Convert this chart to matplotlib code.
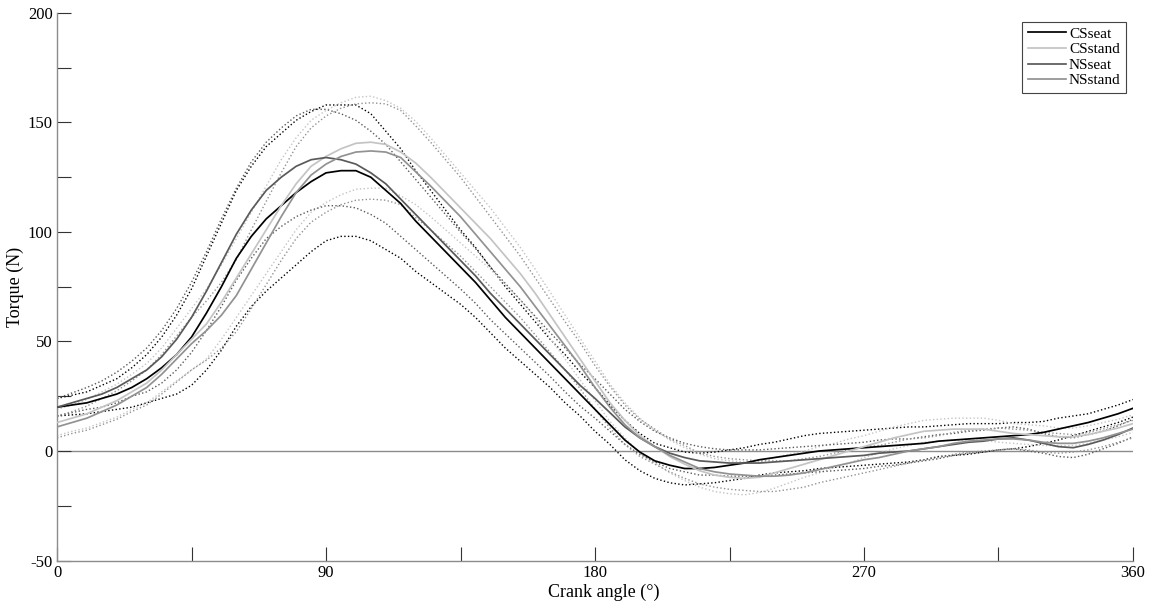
import matplotlib
matplotlib.use("Agg")
import matplotlib.pyplot as plt
import numpy as np

# crank angle samples (deg), every 5 deg
angle = np.arange(0, 361, 5)

labels = ["CSseat", "CSstand", "NSseat", "NSstand"]
colors = ["#000000", "#c4c4c4", "#5a5a5a", "#929292"]

cs_seat_mean = [20, 21, 22, 24, 26, 29, 33, 38, 44, 52, 63, 75, 88, 98, 106,
                112, 118, 123, 127, 128, 128, 125, 119, 113, 105, 98, 91, 84, 77, 69,
                61, 54, 47, 40, 33, 26, 19, 12, 5, -0.5, -4.5, -6.5, -8, -8, -7.5,
                -6.5, -5.5, -4, -3, -2, -1, 0, 0.5, 1, 1.5, 2, 2.5, 3, 3.5, 4.5,
                5, 5.5, 6, 6.5, 7, 7.5, 8.5, 10, 11.5, 13, 15, 17, 19.5]
cs_seat_sd = [4, 4.5, 5, 6, 7, 9, 11, 14, 18, 22, 26, 29, 31, 32, 33,
              33, 33, 32, 31, 30, 30, 29, 27, 25, 23, 21, 19, 17, 16, 15,
              14, 13, 12, 11, 11, 10, 10, 9, 9, 8.5, 8, 8, 7.5, 7, 7,
              7, 7, 7, 7, 7.5, 8, 8, 8, 8, 8, 8, 8, 8, 7.5, 7,
              7, 7, 6.5, 6, 6, 5.5, 5, 5, 4.5, 4, 4, 4, 4]

cs_stand_mean = [13, 15, 17, 20, 23, 27, 31, 37, 44, 51, 58, 68, 79, 90, 101,
                 112, 122, 130, 134.5, 138, 140.5, 141, 140, 136.5, 131.5, 125, 118, 111, 104, 97,
                 89, 81, 72, 62, 52, 42, 32, 22, 14, 7, 2, -2.5, -6, -9, -11,
                 -12, -12.5, -12, -10, -8, -6, -4, -2, 0, 2, 4, 6, 7.5, 9, 9.5,
                 10, 10, 10, 9, 8, 7.5, 7, 6.5, 6.5, 7.5, 9, 10.5, 12.5]
cs_stand_sd = [6, 6, 6.5, 7, 7.5, 8, 9, 10, 12, 14, 16, 17, 18, 19, 20,
               21, 21, 21, 21, 21, 21, 21, 20, 20, 19, 18, 17, 16, 15, 14,
               13, 12, 11, 10.5, 10, 9.5, 9, 8.5, 8, 8, 7.5, 7.5, 7.5, 7.5, 7.5,
               7.5, 7.5, 7, 7, 6.5, 6, 6, 5.5, 5.5, 5, 5, 5, 5, 5, 5,
               5, 5, 5, 5, 4.5, 4.5, 4.5, 4, 4, 4, 4, 4, 4]

ns_seat_mean = [20, 22, 24, 26, 29, 33, 37, 43, 51, 61, 73, 86, 99, 110, 119,
                125, 130, 133, 134, 133, 131, 127, 122, 115, 108, 101, 94, 87, 80, 72,
                65, 58, 51, 44, 37, 30, 24, 17.5, 11, 6, 2, -1, -3, -4.5, -5,
                -5.5, -5.5, -5.5, -5, -4.5, -4, -3.5, -3, -2.5, -2, -1, -0.5, 0, 1, 2,
                3, 4, 4.5, 5.5, 6, 5, 3.5, 2, 1.5, 3, 5, 7.5, 10.5]
ns_seat_sd = [4, 4.5, 5, 6, 7, 8, 10, 12, 14, 16, 18, 20, 21, 22, 22,
              22.5, 23, 23, 22, 21, 20, 19, 18, 17, 16, 15, 14, 13, 12.5, 12,
              11.5, 11, 10.5, 10, 10, 9.5, 9, 8.5, 8, 7.5, 7, 7, 6.5, 6.5, 6,
              6, 6, 6, 6, 6, 6, 6, 6, 6, 6, 6, 6, 5.5, 5.5, 5.5,
              5, 5, 5, 5, 5, 5, 4.5, 4.5, 4.5, 4.5, 4, 4, 4]

ns_stand_mean = [11, 13, 15, 18, 21, 25, 29, 35, 42, 49, 55, 62, 71, 83, 95,
                 107, 118, 126, 131, 134.5, 136.5, 137, 136.5, 134, 127.5, 121, 114, 107, 99, 91,
                 83, 75, 66, 57, 48, 39, 29, 20, 12, 6, 2, -2, -5, -8, -9.5,
                 -10.5, -11, -11.5, -11.5, -11, -10, -8.5, -7, -5.5, -4, -3, -1.5, 0, 1, 2,
                 3.5, 4.5, 5, 5.5, 5.5, 5, 4, 3.5, 3.5, 4.5, 6, 8, 10]
ns_stand_sd = [5, 5, 5.5, 6, 6.5, 7, 8, 9, 10.5, 12, 13.5, 15, 16.5, 18, 19,
               20, 21, 21.5, 22, 22, 22, 22, 22, 21.5, 21, 20, 19, 18, 17, 16,
               15, 14, 13, 12, 11, 10.5, 10, 9.5, 9, 8.5, 8, 7.5, 7.5, 7, 7,
               7, 7, 7, 7, 6.5, 6.5, 6, 6, 6, 6, 5.5, 5.5, 5.5, 5, 5,
               5, 5, 5, 5, 4.5, 4.5, 4.5, 4.5, 4, 4, 4, 4, 4]

means = [cs_seat_mean, cs_stand_mean, ns_seat_mean, ns_stand_mean]
sds = [cs_seat_sd, cs_stand_sd, ns_seat_sd, ns_stand_sd]


def main():
    plt.rcParams["font.family"] = ["Liberation Serif", "DejaVu Serif"]
    plt.rcParams["font.size"] = 12
    plt.rcParams["axes.unicode_minus"] = False

    fig = plt.figure(figsize=(11.52, 6.07), dpi=100)
    ax = fig.add_axes([0.0495, 0.0766, 0.934, 0.902])

    ax.axhline(0, color="#8c8c8c", linewidth=1.0, zorder=1)

    handles = []
    for lab, col, m, s in zip(labels, colors, means, sds):
        m = np.asarray(m, dtype=float)
        s = np.asarray(s, dtype=float)
        ax.plot(angle, m + s, linestyle=":", color=col, linewidth=1.0, zorder=2)
        ax.plot(angle, m - s, linestyle=":", color=col, linewidth=1.0, zorder=2)
        h, = ax.plot(angle, m, color=col, linewidth=1.25, label=lab, zorder=3)
        handles.append(h)

    ax.set_xlim(0, 360)
    ax.set_ylim(-50, 200)
    ax.set_xticks([0, 90, 180, 270, 360])
    ax.set_xticks([45, 135, 225, 315], minor=True)
    ax.set_yticks([-50, 0, 50, 100, 150, 200])
    ax.set_yticks([-25, 25, 75, 125, 175], minor=True)

    for side in ["top", "right"]:
        ax.spines[side].set_visible(False)
    for side in ["left", "bottom"]:
        ax.spines[side].set_color("#8c8c8c")
        ax.spines[side].set_linewidth(1.0)

    ax.tick_params(which="both", direction="in", length=10, width=0.8, color="#333333",
                   labelsize=12)
    ax.tick_params(axis="y", pad=3)
    ax.tick_params(axis="x", pad=3)

    ax.set_xlabel("Crank angle (°)", fontsize=13)
    ax.set_ylabel("Torque (N)", fontsize=13)
    ax.xaxis.set_label_coords(0.508, -0.043)
    ax.yaxis.set_label_coords(-0.031, 0.5)

    leg = ax.legend(handles=handles, loc="upper right", bbox_to_anchor=(0.9935, 0.984),
                    fancybox=False, framealpha=1, edgecolor="#444444", handlelength=2.5,
                    handletextpad=0.2, labelspacing=0.12, borderpad=0.35, borderaxespad=0,
                    fontsize=11)
    leg.get_frame().set_linewidth(0.8)

    fig.savefig("out.png", dpi=100)
    plt.close(fig)


if __name__ == "__main__":
    main()
